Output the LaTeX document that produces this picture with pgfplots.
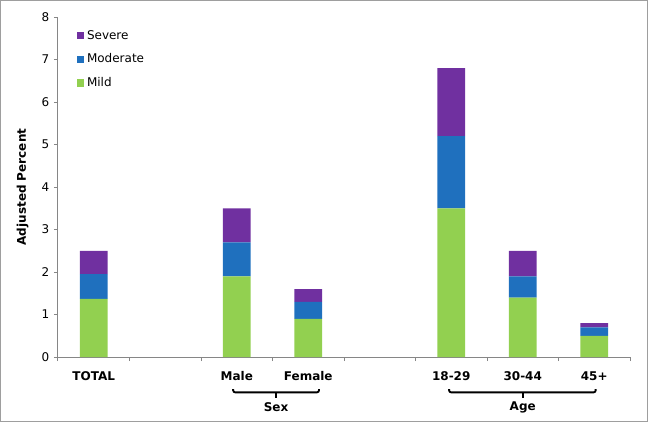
\documentclass[border=0pt]{standalone}
\usepackage{pgfplots}
\pgfplotsset{compat=1.18}
\usepackage{fontspec}
\setmainfont{DejaVu Sans}
\usetikzlibrary{calc}
\definecolor{severe}{RGB}{112,48,160}
\definecolor{moderate}{RGB}{31,112,190}
\definecolor{mild}{RGB}{146,208,80}
\definecolor{axisgray}{RGB}{134,134,134}
\begin{document}
\begin{tikzpicture}
\useasboundingbox (0,0) rectangle (486pt,316.5pt);
\draw[color=axisgray!80, line width=0.75pt] (0.6pt,0.6pt) rectangle (485.4pt,315.9pt);
\begin{axis}[
  at={(43.5pt,48.75pt)}, anchor=south west,
  width=429pt, height=255pt, scale only axis,
  xmin=-0.5, xmax=7.5, ymin=0, ymax=8,
  ybar stacked, bar width=0.39,
  axis lines*=left,
  axis line style={axisgray, line width=0.75pt},
  xtick={0,2,3,5,6,7},
  xticklabels={TOTAL,Male,Female,18-29,30-44,45+},
  major x tick style={draw=none},
  minor xtick={-0.5,0.5,...,7.5},
  ytick={0,1,...,8},
  tick align=outside,
  major tick length=3pt, minor tick length=3pt,
  tick style={axisgray, line width=0.75pt},
  /pgf/number format/assume math mode=true,
  xticklabel style={font=\fontsize{9}{11}\selectfont\bfseries, yshift=-4.5pt},
  yticklabel style={font=\fontsize{9}{11}\selectfont},
  ylabel={Adjusted Percent},
  ylabel style={font=\fontsize{9}{11}\selectfont\bfseries, yshift=3pt},
  legend style={at={(0.033,0.97)}, anchor=north west, draw=none, fill=none,
    font=\fontsize{9}{11}\selectfont, row sep=5.5pt, inner sep=0pt},
  legend cell align=left,
  reverse legend,
  legend image code/.code={\fill[#1] (0pt,-2.7pt) rectangle (5.4pt,2.7pt);},
  clip=false,
]
\addplot[fill=mild, draw=none] coordinates {(0,1.37) (2,1.9) (3,0.9) (5,3.5) (6,1.4) (7,0.5)};
\addplot[fill=moderate, draw=none] coordinates {(0,0.58) (2,0.8) (3,0.4) (5,1.7) (6,0.5) (7,0.2)};
\addplot[fill=severe, draw=none] coordinates {(0,0.55) (2,0.8) (3,0.3) (5,1.6) (6,0.6) (7,0.1)};
\legend{Mild,Moderate,Severe}
\coordinate (sA) at (axis cs:1.95,0);
\coordinate (sB) at (axis cs:3.15,0);
\coordinate (sM) at (axis cs:2.55,0);
\coordinate (aA) at (axis cs:4.97,0);
\coordinate (aB) at (axis cs:7.02,0);
\coordinate (aM) at (axis cs:6.0,0);
\end{axis}
\begin{scope}[line width=1.4pt, rounded corners=1.5pt]
\draw ($(sA)+(0,-24pt)$) -- ($(sA)+(0,-26.5pt)$) -- ($(sB)+(0,-26.5pt)$) -- ($(sB)+(0,-24pt)$);
\draw ($(sM)+(0,-26.5pt)$) -- ($(sM)+(0,-30.5pt)$);
\draw ($(aA)+(0,-24pt)$) -- ($(aA)+(0,-26.5pt)$) -- ($(aB)+(0,-26.5pt)$) -- ($(aB)+(0,-24pt)$);
\draw ($(aM)+(0,-26.5pt)$) -- ($(aM)+(0,-30.5pt)$);
\end{scope}
\node[font=\fontsize{9}{11}\selectfont\bfseries] at ($(sM)+(0,-37.5pt)$) {Sex};
\node[font=\fontsize{9}{11}\selectfont\bfseries] at ($(aM)+(0,-37.5pt)$) {Age};
\end{tikzpicture}
\end{document}
